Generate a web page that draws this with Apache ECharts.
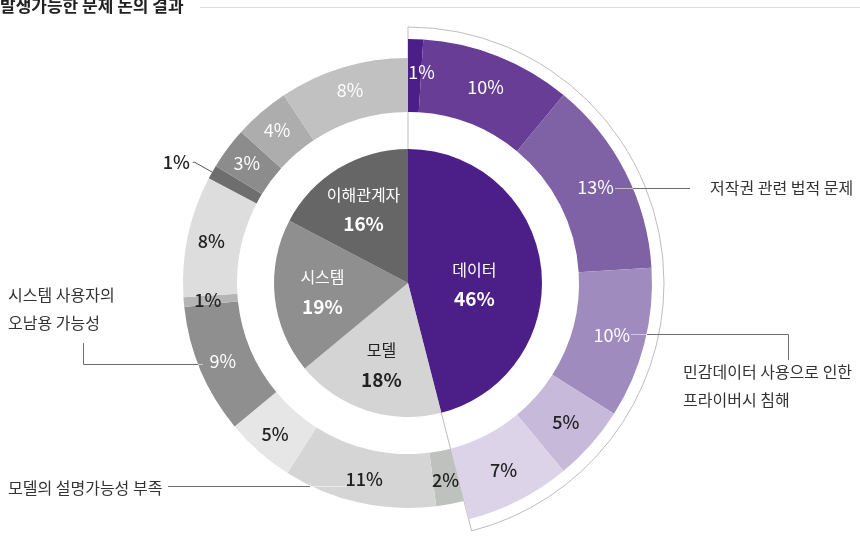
<!DOCTYPE html>
<html>
<head>
<meta charset="utf-8">
<title>발생가능한 문제 논의 결과</title>
<script src="https://cdn.jsdelivr.net/npm/echarts@6/dist/echarts.min.js"></script>
<style>
    html, body { margin: 0; padding: 0; background: #fff; }
    #chart { width: 860px; height: 536px; }
</style>
</head>
<body>
<div id="chart"></div>
<script>
// 안쪽 원 : 분류별 비율
var innerNames  = ['데이터', '모델', '시스템', '이해관계자'];
var innerLabels = ['46%', '18%', '19%', '16%'];     // 그림에 적힌 값
var innerShare  = [46, 18, 18.7, 17.3];             // 그림의 각도에서 읽은 비율
var innerColors = ['#4b1f87', '#d4d4d4', '#8f8f8f', '#666666'];
var innerWhite  = [true, false, true, true];

// 바깥 고리 : 세부 항목 (12시 방향부터 시계방향)
var outerGroup  = [0, 0, 0, 0, 0, 0, 1, 1, 1, 2, 2, 2, 3, 3, 3, 3];
var outerLabels = ['1%', '10%', '13%', '10%', '5%', '7%', '2%', '11%', '5%', '9%', '1%', '8%', '1%', '3%', '4%', '8%'];
var outerShare  = [1, 10, 13, 10, 5, 7, 2, 11, 5, 9.3, 0.7, 8.7, 1, 3, 4, 9.3];
var outerColors = ['#4b1f87', '#673d95', '#7f61a5', '#a08bbf', '#c6b9da', '#dcd3e8',
                   '#bfc1be', '#d5d5d5', '#e6e6e6',
                   '#8f8f8f', '#b4b5b4', '#dcdddc',
                   '#6e6e6e', '#8c8c8c', '#adadad', '#c0c1c0'];
var outerWhite  = [0, 1, 2, 3, 9, 13, 14, 15];
var outsideIdx  = 12;   // 고리 밖에 표시되는 1%

// 주석 문구
var notes = [
    {text: '저작권 관련 법적 문제', x: 710, y: 188},
    {text: '민감데이터 사용으로 인한', x: 683, y: 372},
    {text: '프라이버시 침해', x: 683, y: 400},
    {text: '시스템 사용자의', x: 8, y: 295},
    {text: '오남용 가능성', x: 8, y: 323},
    {text: '모델의 설명가능성 부족', x: 8, y: 488}
];

var CX = 408, CY = 283;
var FONT = '"Noto Sans CJK KR", "Noto Sans", sans-serif';
var NONE = 'rgba(0,0,0,0)';

var chart = echarts.init(document.getElementById('chart'));

// 바깥 고리 데이터 (데이터 그룹은 더 큰 반지름으로 그림)
var ringData = function(purple){
    return outerShare.map(function(v, i){
        var on = (outerGroup[i] === 0) === purple;
        var white = outerWhite.indexOf(i) > -1;
        var item = {
            value: v,
            name: 'o' + i,
            itemStyle: {color: on ? outerColors[i] : NONE},
            label: {
                show: on,
                color: white ? '#fff' : '#222',
                fontWeight: white ? 400 : 500,
                formatter: outerLabels[i]
            }
        };
        if (i === 0) item.label.padding = [0, 0, 0, 14];
        if (on && i === outsideIdx) {
            item.label.position = 'outside';
            item.label.distanceToLabelLine = 3;
            item.labelLine = {show: true, length: 20, length2: 2, lineStyle: {color: '#555', width: 1}};
        }
        return item;
    });
};

var innerData = function(labelFor){
    return innerShare.map(function(v, i){
        var item = {
            value: v,
            name: innerNames[i],
            itemStyle: {color: labelFor === null ? innerColors[i] : NONE},
            label: {
                show: labelFor === null ? i === 0 : i !== 0,
                color: innerWhite[i] ? '#fff' : '#222',
                formatter: '{n|' + innerNames[i] + '}\n{p|' + innerLabels[i] + '}'
            }
        };
        if (i === 0) item.label.padding = [20, 6, 0, 0];
        return item;
    });
};

var innerRich = {
    n: {fontSize: 16, lineHeight: 29, fontFamily: FONT},
    p: {fontSize: 19, lineHeight: 29, fontWeight: 'bold', fontFamily: FONT}
};

var pieBase = {
    type: 'pie',
    center: [CX, CY],
    startAngle: 90,
    clockwise: true,
    silent: true,
    avoidLabelOverlap: false,
    labelLine: {show: false}
};

// 주석 선
var seg = function(x1, y1, x2, y2, color){
    return {type: 'line', shape: {x1: x1, y1: y1, x2: x2, y2: y2},
            style: {stroke: color, lineWidth: 1}, z: 100};
};
var DARK = '#6e6e6e', LIGHT = 'rgba(255,255,255,0.55)';

var graphics = [
    seg(200, 7.5, 860, 7.5, '#dddddd'),
    seg(615, 188.5, 633, 188.5, LIGHT), seg(633, 188.5, 690, 188.5, DARK),
    seg(631, 334.5, 647, 334.5, LIGHT),
    {type: 'polyline', shape: {points: [[647, 334.5], [788.5, 334.5], [788.5, 360]]},
     style: {stroke: DARK, lineWidth: 1, fill: null}, z: 100},
    {type: 'polyline', shape: {points: [[83.5, 343], [83.5, 364.5], [198, 364.5]]},
     style: {stroke: DARK, lineWidth: 1, fill: null}, z: 100},
    seg(198, 364.5, 203, 364.5, LIGHT),
    seg(168, 486.5, 310, 486.5, DARK), seg(310, 486.5, 346, 486.5, LIGHT)
];
notes.forEach(function(n){
    graphics.push({
        type: 'text', x: n.x, y: n.y, z: 100,
        style: {text: n.text, fill: '#333', font: '16px ' + FONT, textVerticalAlign: 'middle'}
    });
});

var option = {
    animation: false,
    backgroundColor: '#fff',
    textStyle: {fontFamily: FONT},
    title: {
        text: '발생가능한 문제 논의 결과',
        left: 0,
        top: -3,
        padding: 0,
        textStyle: {fontSize: 17, fontWeight: 'bold', color: '#222', fontFamily: FONT}
    },
    graphic: graphics,
    series: [
        // 데이터 영역 외곽선
        Object.assign({}, pieBase, {
            radius: [0, 256],
            z: 1,
            label: {show: false},
            data: [
                {value: innerShare[0], itemStyle: {color: '#fff', borderColor: '#bdbdbd', borderWidth: 1}},
                {value: 100 - innerShare[0], itemStyle: {color: NONE}}
            ]
        }),
        // 안쪽 원
        Object.assign({}, pieBase, {
            radius: [0, 134],
            z: 2,
            label: {position: 'inside', rich: innerRich},
            data: innerData(null)
        }),
        // 안쪽 원 글자 (중심에서 조금 더 떨어진 위치)
        Object.assign({}, pieBase, {
            radius: [32, 134],
            z: 3,
            label: {position: 'inside', rich: innerRich},
            data: innerData('label')
        }),
        // 바깥 고리 : 데이터
        Object.assign({}, pieBase, {
            radius: [171, 244],
            z: 3,
            label: {position: 'inside', fontSize: 18, fontFamily: FONT},
            data: ringData(true)
        }),
        // 바깥 고리 : 모델, 시스템, 이해관계자
        Object.assign({}, pieBase, {
            radius: [171, 225],
            z: 3,
            label: {position: 'inside', fontSize: 18, fontFamily: FONT},
            data: ringData(false)
        })
    ]
};

chart.setOption(option);
</script>
</body>
</html>
